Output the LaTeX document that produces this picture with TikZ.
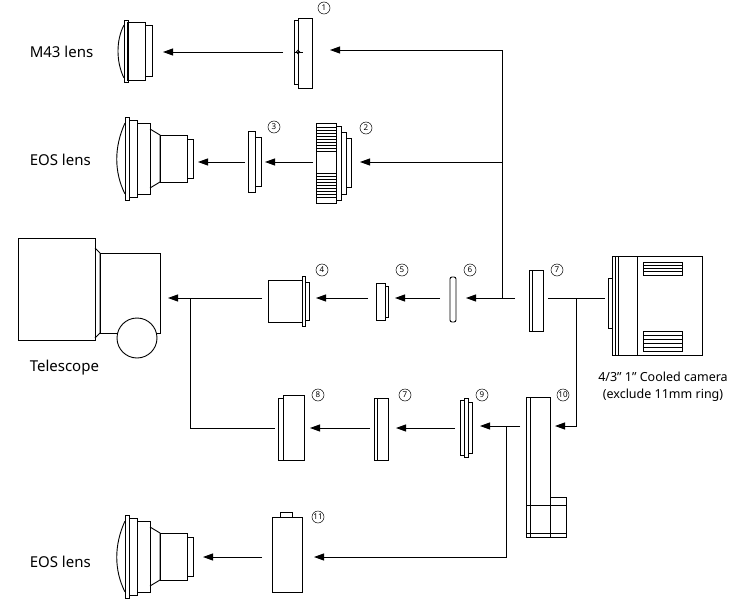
\documentclass[tikz,border=0pt]{standalone}
\usepackage{fontspec}
\setmainfont{Noto Sans}
\usetikzlibrary{arrows.meta}
\begin{document}
\begin{tikzpicture}[x=1pt,y=-1pt,line width=0.9pt,
  ar/.style={-{Triangle[length=10pt,width=7pt]}},
  num/.style={circle,draw,line width=0.5pt,inner sep=0pt,minimum size=12pt,font=\fontsize{8}{8}\selectfont},
  lab/.style={font=\fontsize{15}{17}\selectfont,anchor=west}]
\useasboundingbox (0,0) rectangle (753,608);
% labels
\node[lab] (m43) at (26,52) {M43 lens};
\node[lab] (eos1) at (26,160) {EOS lens};
\node[lab] (tel) at (26,368) {Telescope};
\node[lab] (eos2) at (26,562) {EOS lens};
\node[font=\fontsize{12.5}{17}\selectfont,align=center] (camtxt) at (663,387) {4/3" 1" Cooled camera\\(exclude 11mm ring)};
% numbers
\foreach \n/\x/\y in {1/324/8,3/274/127,2/366/128,4/322/270,5/402/270,6/470/270,7/557/270,8/318/395,7/405/395,9/482/395,10/563/395,11/318/517}
  \node[num] at (\x,\y) {\n};
% M43 lens
\draw (127,22) rectangle (145,80); \draw (124,20) rectangle (128,82); \draw (145,25) rectangle (152,76);
\draw (124,25) .. controls (116,40) and (116,62) .. (124,78);
% component 1
\draw (294,20) rectangle (298,84); \draw (298,18) rectangle (312,88);
\draw (298,52) circle (1.8); \draw[line width=0.5pt] (294,52)--(303,52) (298,47)--(298,57);
% EOS lenses
\newcommand\eoslens[1]{
\begin{scope}[shift={(0,#1)}]
\draw (125,0) rectangle (129,83); \draw (129,3) rectangle (137,80); \draw (137,6) rectangle (150,77);
\draw (150,12) -- (160,18) -- (160,65) -- (150,71);
\draw (160,18) rectangle (187,65); \draw (187,22) rectangle (193,61);
\draw (125,6) .. controls (114,30) and (114,55) .. (125,77);
\end{scope}}
\eoslens{117}
\eoslens{515}
% component 3
\draw (248,131) rectangle (255,192); \draw (255,137) rectangle (261,186);
% component 2
\draw (316,123) rectangle (336,203); \draw (336,126) rectangle (341,200);
\draw (341,132) rectangle (346,194); \draw (346,138) rectangle (351,187);
\foreach \y in {127,130,...,151} \draw[line width=0.4pt] (316,\y)--(336,\y);
\foreach \y in {173,176,...,197} \draw[line width=0.4pt] (316,\y)--(336,\y);
% telescope
\draw (18,238) rectangle (95,340); \draw (95,248) -- (100,253) -- (100,333) -- (95,338);
\draw (100,253) rectangle (160,333);
\draw[fill=white] (137,338) circle (20);
% component 4
\draw (268,280) rectangle (302,322); \draw (302,276) rectangle (305,326); \draw (305,282) rectangle (309,320);
% 5
\draw (376,283) rectangle (385,320); \draw (385,286) rectangle (388,317);
% 6
\draw[rounded corners=2pt] (450,277) rectangle (456,322);
% 7 top
\draw (529,270) rectangle (532,331); \draw (532,270) rectangle (543,331);
% camera
\draw (608,278) rectangle (612,328); \draw (612,256) rectangle (702,355);
\draw (615,256)--(615,355) (618,256)--(618,355) (637,256)--(637,355);
\draw (643,262) rectangle (682,275); \draw (643,331) rectangle (682,351);
\foreach \y in {265,268,271} \draw[line width=0.4pt] (643,\y)--(682,\y);
\foreach \y in {335,339,343,347} \draw[line width=0.4pt] (643,\y)--(682,\y);
% 8
\draw (278,398) rectangle (283,460); \draw (283,395) rectangle (304,460);
% 7b
\draw (374,398) rectangle (377,460); \draw (377,398) rectangle (388,460);
% 9
\draw (460,400) rectangle (464,455); \draw (464,398) rectangle (468,457); \draw (468,402) rectangle (472,453);
% 10
\draw (526,397) rectangle (550,537); \draw (530,397)--(530,537);
\draw (550,497) rectangle (566,505); \draw (526,505) rectangle (566,537); \draw (526,533)--(566,533);
% 11
\draw (272,517) rectangle (302,592); \draw (280,512) rectangle (292,517);
% connectors
\coordinate (j) at (502,298); \coordinate (j1) at (502,50); \coordinate (j2) at (502,162);
\coordinate (c1r) at (330,50); \coordinate (c2r) at (360,162);
\draw (j) -- (j1); \draw[ar] (j1) -- (c1r); \draw[ar] (j2) -- (c2r);
\draw[ar] (515,298) -- (466,298);
\draw[ar] (440,298) -- (395,298);
\draw[ar] (368,298) -- (316,298);
\draw[ar] (262,298) -- (168,298);
\draw[ar] (283,52) -- (163,52);
\draw[ar] (313,162) -- (265,162);
\draw[ar] (245,162) -- (198,162);
\draw (548,298) -- (605,298);
\coordinate (k) at (576,298); \coordinate (k2) at (576,426);
\draw[ar] (k) -- (k2) -- (555,426);
\draw (190,298) -- (190,428) -- (275,428);
\draw[ar] (370,428) -- (310,428);
\draw[ar] (455,428) -- (396,428);
\draw[ar] (520,426) -- (480,426);
\draw[ar] (506,426) -- (506,557) -- (314,557);
\draw[ar] (262,557) -- (203,557);
\end{tikzpicture}
\end{document}
